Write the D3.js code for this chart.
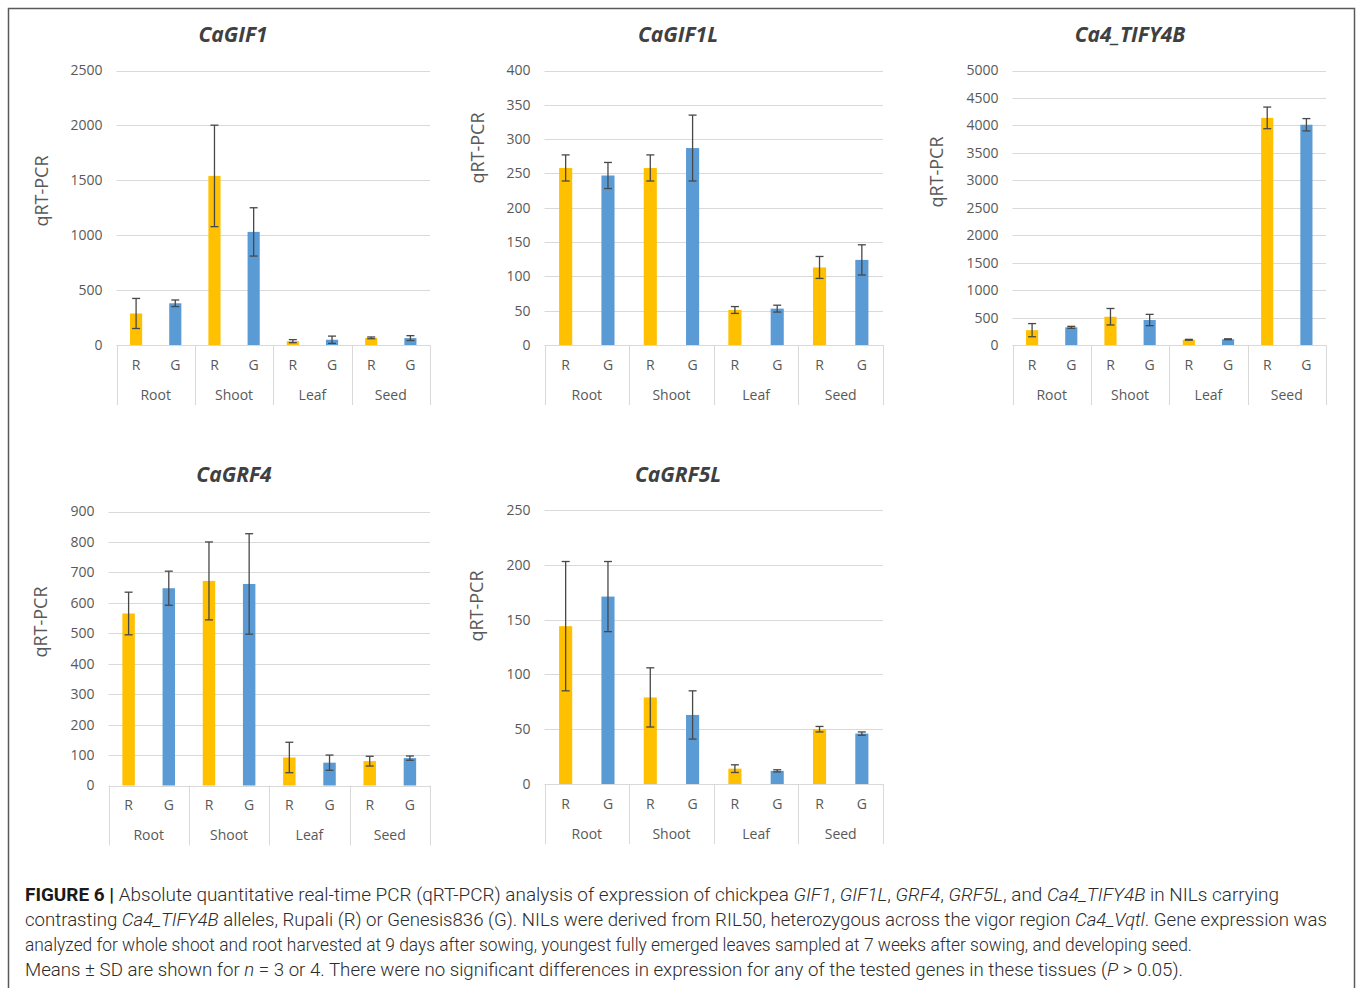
<!DOCTYPE html>
<html>
<head>
<meta charset="utf-8">
<script src="https://cdn.jsdelivr.net/npm/d3@7"></script>
<style>
  html, body { margin: 0; padding: 0; background: #fff; }
  svg { display: block; }
</style>
</head>
<body>
<svg id="chart" width="1358" height="988"></svg>
<script>
// ---------------- DATA ----------------
const tissues = ["Root", "Shoot", "Leaf", "Seed"];
const alleles = ["R", "G"];
const genes = ["CaGIF1", "CaGIF1L", "Ca4_TIFY4B", "CaGRF4", "CaGRF5L"];

// means and SD, per tissue (Root, Shoot, Leaf, Seed)
const gif1_R = [287, 1540, 35, 65];
const gif1_R_sd = [137, 462, 14, 8];
const gif1_G = [380, 1030, 48, 63];
const gif1_G_sd = [30, 220, 33, 22];

const gif1l_R = [258, 258, 51, 113];
const gif1l_R_sd = [19, 19, 5, 16];
const gif1l_G = [247, 287, 53, 124];
const gif1l_G_sd = [19, 48, 5, 22];

const tify_R = [270, 515, 95, 4137];
const tify_R_sd = [120, 150, 8, 197];
const tify_G = [322, 455, 105, 4012];
const tify_G_sd = [18, 103, 8, 112];

const grf4_R = [565, 672, 92, 80];
const grf4_R_sd = [70, 128, 50, 16];
const grf4_G = [648, 662, 75, 90];
const grf4_G_sd = [56, 165, 25, 7];

const grf5l_R = [144, 79, 14, 50];
const grf5l_R_sd = [59, 27, 3.5, 2.5];
const grf5l_G = [171, 63, 12, 46];
const grf5l_G_sd = [32, 22, 1, 1.5];

const gif1_ticks = [0, 500, 1000, 1500, 2000, 2500];
const gif1l_ticks = [0, 50, 100, 150, 200, 250, 300, 350, 400];
const tify_ticks = [0, 500, 1000, 1500, 2000, 2500, 3000, 3500, 4000, 4500, 5000];
const grf4_ticks = [0, 100, 200, 300, 400, 500, 600, 700, 800, 900];
const grf5l_ticks = [0, 50, 100, 150, 200, 250];

const yLabel = "qRT-PCR";

const captionLines = [
  [["FIGURE 6 |", "b"], [" Absolute quantitative real-time PCR (qRT-PCR) analysis of expression of chickpea ", ""], ["GIF1", "i"], [", ", ""], ["GIF1L", "i"], [", ", ""], ["GRF4", "i"], [", ", ""], ["GRF5L", "i"], [", and ", ""], ["Ca4_TIFY4B", "i"], [" in NILs carrying", ""]],
  [["contrasting ", ""], ["Ca4_TIFY4B", "i"], [" alleles, Rupali (R) or Genesis836 (G). NILs were derived from RIL50, heterozygous across the vigor region ", ""], ["Ca4_Vqtl", "i"], [". Gene expression was", ""]],
  [["analyzed for whole shoot and root harvested at 9 days after sowing, youngest fully emerged leaves sampled at 7 weeks after sowing, and developing seed.", ""]],
  [["Means \u00B1 SD are shown for ", ""], ["n", "i"], [" = 3 or 4. There were no significant differences in expression for any of the tested genes in these tissues (", ""], ["P", "i"], [" > 0.05).", ""]]
];

// ---------------- LAYOUT ----------------
const panelData = [
  { R: gif1_R, Rsd: gif1_R_sd, G: gif1_G, Gsd: gif1_G_sd, ticks: gif1_ticks },
  { R: gif1l_R, Rsd: gif1l_R_sd, G: gif1l_G, Gsd: gif1l_G_sd, ticks: gif1l_ticks },
  { R: tify_R, Rsd: tify_R_sd, G: tify_G, Gsd: tify_G_sd, ticks: tify_ticks },
  { R: grf4_R, Rsd: grf4_R_sd, G: grf4_G, Gsd: grf4_G_sd, ticks: grf4_ticks },
  { R: grf5l_R, Rsd: grf5l_R_sd, G: grf5l_G, Gsd: grf5l_G_sd, ticks: grf5l_ticks }
];
const layout = [
  { x0: 116.5, x1: 430, yTop: 70.5, yBot: 345, titleX: 233, titleY: 35, labX: 42, labY: 191 },
  { x0: 544.5, x1: 883, yTop: 70.5, yBot: 345, titleX: 678, titleY: 35, labX: 478, labY: 148 },
  { x0: 1012.5, x1: 1326, yTop: 70.5, yBot: 345, titleX: 1130, titleY: 35, labX: 937, labY: 172 },
  { x0: 108.5, x1: 430, yTop: 511.5, yBot: 785.5, titleX: 234, titleY: 475, labX: 41, labY: 622 },
  { x0: 544.5, x1: 883, yTop: 510, yBot: 784, titleX: 678, titleY: 475, labX: 477, labY: 606 }
];

const colR = "#FFC000", colG = "#5B9BD5";
const gridCol = "#D9D9D9", txtCol = "#595959", errCol = "#484848";
const fontChart = "'Open Sans', Calibri, sans-serif";

const svg = d3.select("#chart");

// frame
svg.append("rect").attr("x", 8.5).attr("y", 8.5).attr("width", 1346).attr("height", 1010)
  .attr("fill", "none").attr("stroke", "#5a5a5a").attr("stroke-width", 1.5);

panelData.forEach((pd, i) => {
  const L = layout[i];
  const g = svg.append("g");
  const ymax = pd.ticks[pd.ticks.length - 1];
  const y = d3.scaleLinear().domain([0, ymax]).range([L.yBot, L.yTop]);

  const slots = [];
  tissues.forEach(t => alleles.forEach(a => slots.push(t + "|" + a)));
  const x = d3.scaleBand().domain(slots).range([L.x0, L.x1]).paddingInner(0.69).paddingOuter(0.345);
  const xg = d3.scaleBand().domain(tissues).range([L.x0, L.x1]).padding(0);

  // gridlines
  g.selectAll("line.grid").data(pd.ticks.slice(1)).join("line")
    .attr("x1", L.x0).attr("x2", L.x1)
    .attr("y1", d => Math.round(y(d)) + 0.5).attr("y2", d => Math.round(y(d)) + 0.5)
    .attr("stroke", gridCol).attr("stroke-width", 1);

  // y axis labels
  const yAxis = d3.axisLeft(y).tickValues(pd.ticks).tickSize(0).tickPadding(14).tickFormat(d3.format("d"));
  const ya = g.append("g").attr("transform", `translate(${L.x0},0)`).call(yAxis);
  ya.select(".domain").remove();
  ya.selectAll("text").attr("fill", txtCol).style("font-family", fontChart).style("font-size", "14px");

  // bars
  const rows = [];
  tissues.forEach((t, k) => {
    rows.push({ slot: t + "|R", v: pd.R[k], sd: pd.Rsd[k], c: colR });
    rows.push({ slot: t + "|G", v: pd.G[k], sd: pd.Gsd[k], c: colG });
  });
  g.selectAll("rect.bar").data(rows).join("rect")
    .attr("x", d => x(d.slot)).attr("width", x.bandwidth())
    .attr("y", d => y(d.v)).attr("height", d => L.yBot - y(d.v))
    .attr("fill", d => d.c);

  // error bars
  const eb = g.selectAll("g.err").data(rows).join("g")
    .attr("stroke", errCol).attr("stroke-width", 1.3);
  const cx = d => x(d.slot) + x.bandwidth() / 2;
  eb.append("line").attr("x1", cx).attr("x2", cx)
    .attr("y1", d => y(d.v + d.sd)).attr("y2", d => y(Math.max(0, d.v - d.sd)));
  eb.append("line").attr("x1", d => cx(d) - 4).attr("x2", d => cx(d) + 4)
    .attr("y1", d => y(d.v + d.sd)).attr("y2", d => y(d.v + d.sd));
  eb.append("line").attr("x1", d => cx(d) - 4).attr("x2", d => cx(d) + 4)
    .attr("y1", d => y(Math.max(0, d.v - d.sd))).attr("y2", d => y(Math.max(0, d.v - d.sd)));

  // category axis
  g.append("line").attr("x1", L.x0).attr("x2", L.x1)
    .attr("y1", Math.round(L.yBot) + 0.5).attr("y2", Math.round(L.yBot) + 0.5)
    .attr("stroke", gridCol).attr("stroke-width", 1);
  const bounds = tissues.map(t => xg(t)).concat([L.x1]);
  g.selectAll("line.div").data(bounds).join("line")
    .attr("x1", d => Math.round(d) + 0.5).attr("x2", d => Math.round(d) + 0.5)
    .attr("y1", L.yBot).attr("y2", L.yBot + 60)
    .attr("stroke", gridCol).attr("stroke-width", 1);
  g.selectAll("text.al").data(rows).join("text")
    .attr("x", cx).attr("y", L.yBot + 20).attr("dy", "0.35em")
    .attr("text-anchor", "middle").attr("fill", txtCol)
    .style("font-family", fontChart).style("font-size", "14px")
    .text(d => d.slot.split("|")[1]);
  g.selectAll("text.ts").data(tissues).join("text")
    .attr("x", d => xg(d) + xg.bandwidth() / 2).attr("y", L.yBot + 50).attr("dy", "0.35em")
    .attr("text-anchor", "middle").attr("fill", txtCol)
    .style("font-family", fontChart).style("font-size", "14px")
    .text(d => d);

  // title
  g.append("text").attr("x", L.titleX).attr("y", L.titleY).attr("dy", "0.35em")
    .attr("text-anchor", "middle").attr("fill", "#404040")
    .style("font-family", fontChart).style("font-size", "21px")
    .style("font-weight", "bold").style("font-style", "italic")
    .text(genes[i]);

  // y label
  g.append("text").attr("transform", `translate(${L.labX},${L.labY}) rotate(-90)`)
    .attr("dy", "0.35em").attr("text-anchor", "middle").attr("fill", txtCol)
    .style("font-family", fontChart).style("font-size", "18px")
    .text(yLabel);
});

// caption
const capTargets = [1279, 1327, 1192, 1183];
const cap = svg.append("g");
captionLines.forEach((segs, li) => {
  const t = cap.append("text").attr("x", 25).attr("y", 901 + li * 25)
    .attr("fill", "#2b2b2b")
    .style("font-family", "Roboto, 'Liberation Sans', sans-serif")
    .style("font-size", "18px").style("font-weight", 300);
  segs.forEach(([s, st]) => {
    const ts = t.append("tspan").text(s);
    if (st === "b") ts.style("font-weight", 700).attr("fill", "#1a1a1a");
    if (st === "i") ts.style("font-style", "italic");
  });
  const target = capTargets[li] - 25;
  t.attr("textLength", target).attr("lengthAdjust", "spacingAndGlyphs");
});
</script>
</body>
</html>
